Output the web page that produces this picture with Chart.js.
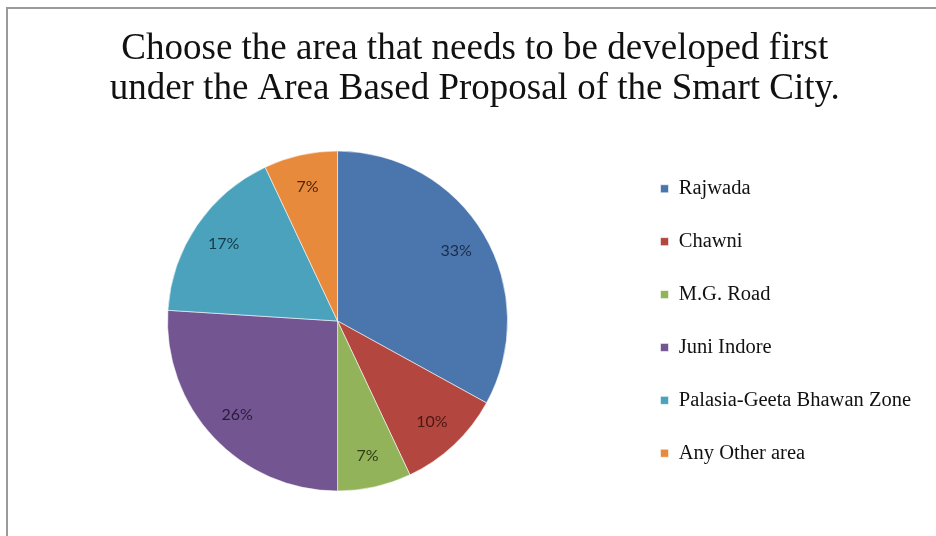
<!DOCTYPE html>
<html>
<head>
<meta charset="utf-8">
<script src="https://cdn.jsdelivr.net/npm/chart.js@4"></script>
<style>
    html, body { margin: 0; padding: 0; background: #fff; }
    #wrap { position: relative; width: 936px; height: 536px; }
    #frame {
        position: absolute; left: 6px; top: 7px; right: 0; bottom: 0;
        border-top: 2px solid #9a9a9a; border-left: 2px solid #9a9a9a;
        pointer-events: none;
    }
</style>
</head>
<body>
<div id="wrap">
    <canvas id="chart" width="936" height="536"></canvas>
    <div id="frame"></div>
</div>
<script>
// ===== ДАННЫЕ =====
const titleLines = [
    'Choose the area that needs to be developed first',
    'under the Area Based Proposal of the Smart City.'
];
const areas = ['Rajwada', 'Chawni', 'M.G. Road', 'Juni Indore', 'Palasia-Geeta Bhawan Zone', 'Any Other area'];
const shares = [33, 10, 7, 26, 17, 7];
const sliceColors = ['#4a76ad', '#b3473f', '#93b35a', '#735591', '#4aa2bd', '#e88a3c'];
const labelColors = ['#1c2c48', '#4a1714', '#2e3d14', '#281c3a', '#163a48', '#4a2508'];

// подписи процентов внутри секторов
const sliceLabels = {
    id: 'sliceLabels',
    afterDatasetsDraw(chart) {
        const { ctx } = chart;
        const meta = chart.getDatasetMeta(0);
        ctx.save();
        ctx.font = '16px Lato';
        ctx.textAlign = 'center';
        ctx.textBaseline = 'middle';
        meta.data.forEach((arc, i) => {
            const { x, y, startAngle, endAngle, outerRadius } = arc.getProps(['x', 'y', 'startAngle', 'endAngle', 'outerRadius'], true);
            const mid = (startAngle + endAngle) / 2;
            const r = outerRadius * 0.81;
            ctx.fillStyle = labelColors[i];
            ctx.fillText(shares[i] + '%', x + Math.cos(mid) * r, y + Math.sin(mid) * r);
        });
        ctx.restore();
    }
};

const ctx = document.getElementById('chart').getContext('2d');
new Chart(ctx, {
    type: 'pie',
    data: {
        labels: areas,
        datasets: [{
            data: shares,
            backgroundColor: sliceColors,
            borderColor: 'rgba(255,255,255,0.55)',
            borderWidth: 1,
            radius: 170
        }]
    },
    options: {
        responsive: false,
        animation: false,
        layout: { padding: { left: 47, right: 15, top: 0, bottom: 13 } },
        plugins: {
            title: {
                display: true,
                // en-space в конце строки сдвигает заголовок чуть левее центра
                text: titleLines.map(t => t + '\u2002'),
                color: '#111',
                font: { family: 'Liberation Serif', size: 37, weight: 'normal', lineHeight: '40px' },
                padding: { top: 29, bottom: 10 }
            },
            legend: {
                position: 'right',
                fullSize: false,
                labels: {
                    color: '#111',
                    font: { family: 'Liberation Serif', size: 20.5 },
                    boxWidth: 8,
                    boxHeight: 8,
                    padding: 32.4
                }
            },
            tooltip: { enabled: false }
        }
    },
    plugins: [sliceLabels]
});
</script>
</body>
</html>
